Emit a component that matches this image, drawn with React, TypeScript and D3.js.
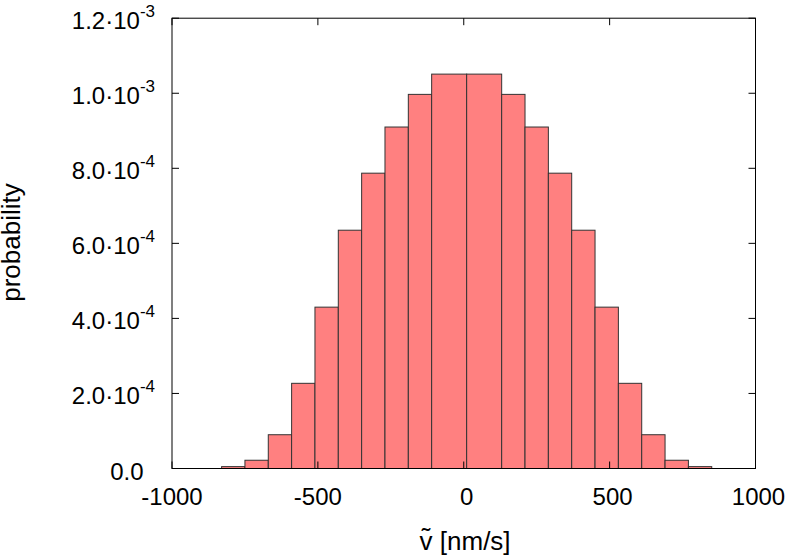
import React from "react";
import * as d3 from "d3";

// histogram of v~ (gnuplot style boxes)
const binEdges = [
  -830, -750, -670, -590, -510, -430, -350, -270, -190, -110, 10, 130, 210, 290,
  370, 450, 530, 610, 690, 770, 850,
];
const probabilities = [
  5e-6, 2.2e-5, 9.0e-5, 2.27e-4, 4.3e-4, 6.35e-4, 7.87e-4, 9.1e-4, 9.97e-4,
  1.051e-3, 1.051e-3, 9.97e-4, 9.1e-4, 7.87e-4, 6.35e-4, 4.3e-4, 2.27e-4,
  9.0e-5, 2.2e-5, 5e-6,
];
const xTicks = [-1000, -500, 0, 500, 1000];
const yTicks = [0, 2e-4, 4e-4, 6e-4, 8e-4, 1e-3, 1.2e-3];
const yMantissa = ["0.0", "2.0", "4.0", "6.0", "8.0", "1.0", "1.2"];
const yExponent = ["", "-4", "-4", "-4", "-4", "-3", "-3"];

const W = 789;
const H = 558;
const left = 172;
const right = 755.5;
const top = 18.2;
const bottom = 468.5;
const tick = 7;

const font = "'Liberation Sans', Arial, Helvetica, sans-serif";

export default function App() {
  const x = d3.scaleLinear().domain([-1000, 1000]).range([left, right]);
  const y = d3.scaleLinear().domain([0, 1.2e-3]).range([bottom, top]);

  const bars = probabilities.map((p, i) => ({
    x0: binEdges[i],
    x1: binEdges[i + 1],
    p,
  }));

  return (
    <div style={{ position: "absolute", left: 0, top: 0 }}>
      <svg width={W} height={H} style={{ display: "block", background: "#fff" }}>
        {/* bars */}
        <g>
          {bars.map((b, i) => (
            <rect
              key={i}
              x={x(b.x0)}
              width={x(b.x1) - x(b.x0)}
              y={y(b.p)}
              height={y(0) - y(b.p)}
              fill="#ff8080"
              stroke="#333"
              strokeWidth={1}
            />
          ))}
        </g>

        {/* ticks, mirrored like gnuplot */}
        <g stroke="#000" strokeWidth={1}>
          {yTicks.map((t) => (
            <g key={"y" + t}>
              <line x1={left} x2={left + tick} y1={y(t)} y2={y(t)} />
              <line x1={right} x2={right - tick} y1={y(t)} y2={y(t)} />
            </g>
          ))}
          {xTicks.map((t) => (
            <g key={"x" + t}>
              <line x1={x(t)} x2={x(t)} y1={bottom} y2={bottom - tick} />
              <line x1={x(t)} x2={x(t)} y1={top} y2={top + tick} />
            </g>
          ))}
        </g>

        {/* border */}
        <rect
          x={left}
          y={top}
          width={right - left}
          height={bottom - top}
          fill="none"
          stroke="#000"
          strokeWidth={1}
        />

        {/* y tick labels */}
        <g fontFamily={font} fontSize={24} fill="#000">
          {yTicks.map((t, i) =>
            yExponent[i] ? (
              <text key={t} x={155} y={y(t) + 11} textAnchor="end">
                {yMantissa[i] + "\u00b710"}
                <tspan fontSize={17} dy={-12.5}>
                  {yExponent[i]}
                </tspan>
              </text>
            ) : (
              <text key={t} x={143.5} y={y(t) + 11.5} textAnchor="end">
                {yMantissa[i]}
              </text>
            )
          )}
        </g>

        {/* x tick labels */}
        <g fontFamily={font} fontSize={24} fill="#000" textAnchor="middle">
          {xTicks.map((t) => (
            <text key={t} x={x(t) + (t >= 0 ? 3 : 0)} y={505}>
              {t}
            </text>
          ))}
        </g>

        {/* axis titles */}
        <g fontFamily={font} fontSize={26} fill="#000">
          {/* v with a tilde on top, kept in one text */}
          <text x={419.5} y={550}>
            v
            <tspan dx={-10.8} dy={-4}>
              {"\u02dc"}
            </tspan>
            <tspan dx={2.2} dy={4}>
              {" [nm/s]"}
            </tspan>
          </text>
          <text
            transform="translate(20,242.5) rotate(-90)"
            textAnchor="middle"
          >
            probability
          </text>
        </g>
      </svg>
    </div>
  );
}
